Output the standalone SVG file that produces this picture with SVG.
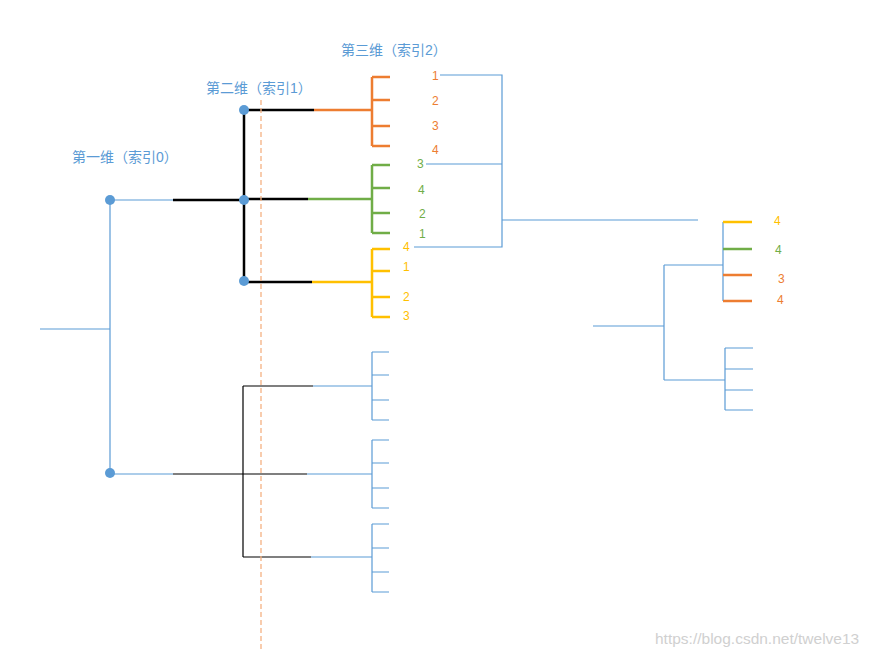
<svg xmlns="http://www.w3.org/2000/svg" width="873" height="657" viewBox="0 0 873 657">
<style>
text{font-family:"Liberation Sans","Noto Sans CJK SC",sans-serif;font-size:12px}
.b{stroke:#5b9bd5;stroke-width:1.2;fill:none}
.k{stroke:#000;stroke-width:2.5;fill:none}
.kt{stroke:#000;stroke-width:1.2;fill:none}
.o{stroke:#ed7d31;stroke-width:2.5;fill:none}
.g{stroke:#70ad47;stroke-width:2.5;fill:none}
.y{stroke:#ffc000;stroke-width:2.5;fill:none}
.to{fill:#ed7d31}.tg{fill:#70ad47}.ty{fill:#ffc000}.tb{fill:#5b9bd5;font-size:14px}
.wm{fill:#d0d0d0;font-size:15.5px}
</style>
<rect width="873" height="657" fill="#fff"/>
<g id="connectors">
<path class="b" d="M40 329H110M110 200V473M110 200H173M110 474H173"/>
<path class="k" d="M173 200H244M244 110V281M244 110H314M244 199H308M244 282H312"/>
<path class="kt" d="M173 474H243M243 386V557M243 386H313M243 474H307M243 557H311"/>
<path class="o" d="M314 110H372M372 77V146M372 77H390M372 100H390M372 126H390M372 146H390"/>
<path class="g" d="M308 199H372M372 165V233M372 165H390M372 188H390M372 213H390M372 233H390"/>
<path class="y" d="M312 282H372M372 249V317M372 249H390M372 271H390M372 297H390M372 317H390"/>
<path class="b" d="M313 386H372M307 474H372M311 557H372M372 352V420M372 352H389M372 375H389M372 400H389M372 420H389M372 440V508M372 440H389M372 463H389M372 488H389M372 508H389M372 524V592M372 524H389M372 548H389M372 572H389M372 592H389"/>
<path class="b" d="M440 75H502V247H414M426 164H502M502 220H698"/>
<path class="b" d="M593 326H664M664 265V380M664 265H723M723 222V301M664 380H725M725 348V410M725 348H753M725 369H753M725 390H753M725 410H753"/>
<path class="y" d="M723 222H752"/><path class="g" d="M723 249H752"/><path class="o" d="M723 275H752M723 301H752"/>
<line x1="261" y1="100" x2="261" y2="652" stroke="#f4b183" stroke-width="1.3" stroke-dasharray="5,3"/>
</g>
<g id="nodes" fill="#5b9bd5">
<circle id="n0a" cx="110" cy="200" r="5"/><circle id="n0b" cx="110" cy="473" r="5"/>
<circle id="n1a" cx="244" cy="110" r="5"/><circle id="n1b" cx="244" cy="200" r="5"/><circle id="n1c" cx="244" cy="281" r="5"/>
</g>
<g id="labels">
<text class="tb" x="72" y="162">第一维（索引0）</text>
<text class="tb" x="206" y="93">第二维（索引1）</text>
<text class="tb" x="341" y="55">第三维（索引2）</text>
<text class="to" x="432" y="80">1</text><text class="to" x="432" y="105">2</text><text class="to" x="432" y="130">3</text><text class="to" x="432" y="154">4</text>
<text class="tg" x="417" y="168">3</text><text class="tg" x="418" y="194">4</text><text class="tg" x="419" y="218">2</text><text class="tg" x="419" y="238">1</text>
<text class="ty" x="403" y="251">4</text><text class="ty" x="403" y="271">1</text><text class="ty" x="403" y="301">2</text><text class="ty" x="403" y="320">3</text>
<text class="ty" x="774" y="225">4</text><text class="tg" x="775" y="254">4</text><text class="to" x="778" y="283">3</text><text class="to" x="777" y="304">4</text>
<text class="wm" x="655" y="644">https://blog.csdn.net/twelve13</text>
</g>
</svg>
